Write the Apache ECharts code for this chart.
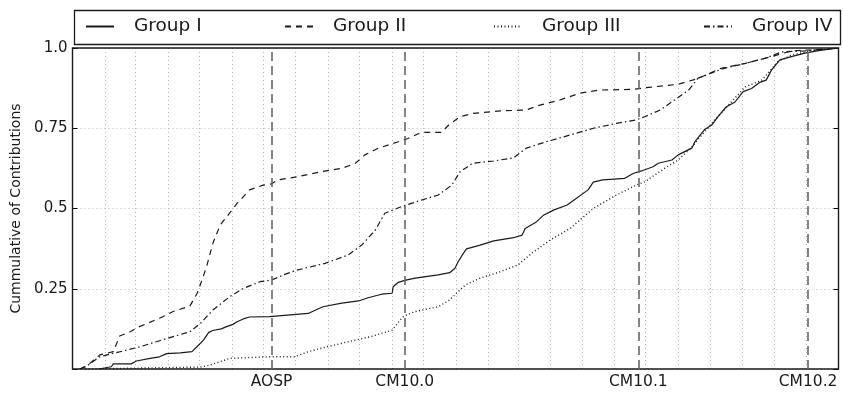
<!DOCTYPE html>
<html>
<head>
<meta charset="utf-8">
<script src="https://cdn.jsdelivr.net/npm/echarts@6/dist/echarts.min.js"></script>
<style>
html,body{margin:0;padding:0;background:#fff;}
#chart{width:843px;height:396px;}
</style>
</head>
<body>
<div id="chart"></div>
<script>
// x values: days since 2012-01-01 ; y values: cumulative share of contributions
var startDate = '2012-01-01';
var endDate = '2014-01-01';

var groupNames = ['Group I', 'Group II', 'Group III', 'Group IV'];

var groupI = [[25,0.0],[37,0.007],[39,0.016],[56,0.016],[61,0.025],[74,0.033],[83,0.038],[90,0.048],[103,0.050],[114,0.054],[119,0.070],[125,0.090],[130,0.114],[134,0.120],[142,0.125],[147,0.132],[153,0.139],[157,0.147],[163,0.156],[169,0.162],[188,0.163],[225,0.173],[231,0.182],[239,0.194],[257,0.205],[273,0.212],[282,0.222],[295,0.233],[305,0.236],[306,0.256],[311,0.270],[317,0.276],[327,0.283],[349,0.293],[360,0.300],[365,0.314],[368,0.334],[373,0.360],[376,0.374],[389,0.386],[402,0.399],[421,0.409],[429,0.417],[432,0.438],[443,0.459],[449,0.478],[459,0.495],[472,0.511],[481,0.532],[492,0.558],[497,0.582],[506,0.589],[527,0.594],[535,0.609],[543,0.617],[554,0.630],[559,0.641],[572,0.651],[578,0.667],[591,0.688],[594,0.708],[603,0.745],[610,0.760],[616,0.786],[624,0.817],[632,0.831],[640,0.864],[648,0.874],[656,0.893],[662,0.900],[667,0.931],[675,0.963],[686,0.973],[699,0.984],[712,0.992],[731,1.0]];

var groupII = [[7,0.0],[14,0.010],[26,0.044],[39,0.054],[45,0.103],[55,0.116],[64,0.132],[83,0.158],[96,0.179],[112,0.196],[119,0.236],[123,0.272],[128,0.319],[134,0.392],[141,0.449],[150,0.486],[157,0.516],[160,0.526],[169,0.558],[182,0.573],[190,0.577],[196,0.589],[215,0.599],[238,0.615],[257,0.625],[270,0.641],[279,0.667],[292,0.688],[311,0.708],[320,0.718],[333,0.737],[352,0.737],[359,0.760],[370,0.786],[382,0.796],[408,0.804],[433,0.807],[446,0.822],[465,0.838],[484,0.859],[503,0.869],[535,0.871],[546,0.876],[578,0.887],[597,0.905],[619,0.937],[642,0.952],[667,0.973],[686,0.991],[705,0.994],[731,1.0]];

var groupIII = [[12,0.0],[122,0.006],[131,0.012],[141,0.023],[150,0.033],[163,0.035],[188,0.038],[212,0.038],[225,0.054],[244,0.070],[263,0.085],[285,0.101],[305,0.121],[314,0.158],[317,0.166],[327,0.179],[349,0.194],[360,0.215],[368,0.241],[375,0.262],[389,0.283],[408,0.303],[425,0.324],[440,0.365],[456,0.402],[475,0.438],[497,0.500],[519,0.542],[538,0.573],[546,0.583],[565,0.625],[578,0.651],[591,0.692],[610,0.765],[626,0.822],[642,0.879],[658,0.900],[673,0.957],[686,0.978],[705,0.991],[731,1.0]];

var groupIV = [[7,0.0],[14,0.010],[26,0.038],[39,0.049],[52,0.059],[64,0.069],[80,0.085],[96,0.101],[112,0.116],[122,0.142],[134,0.184],[150,0.225],[163,0.251],[179,0.272],[190,0.277],[201,0.293],[214,0.308],[241,0.329],[263,0.355],[276,0.386],[289,0.433],[298,0.485],[314,0.506],[333,0.526],[349,0.542],[362,0.573],[370,0.615],[382,0.641],[402,0.648],[421,0.658],[433,0.688],[452,0.708],[475,0.729],[497,0.750],[519,0.765],[538,0.776],[546,0.786],[561,0.807],[588,0.869],[597,0.906],[620,0.935],[642,0.952],[661,0.968],[677,0.988],[699,0.991],[731,1.0]];

var releaseNames = ['AOSP', 'CM10.0', 'CM10.1', 'CM10.2'];
var releaseDates = ['2012-07-09', '2012-11-13', '2013-06-24', '2013-12-03'];

var yTicks = [0.25, 0.5, 0.75, 1.0];
var yTickLabels = ['0.25', '0.5', '0.75', '1.0'];

var DAY = 86400000;
var T0 = Date.parse(startDate);
var T1 = Date.parse(endDate);
function toSeries(arr){ return arr.map(function(p){ return [T0 + p[0]*DAY, p[1]]; }); }

var groupData = [groupI, groupII, groupIII, groupIV];
var dashTypes = ['solid', [6,5], [1,2.5], [6,3,1.5,3]];
var widths = [1.2, 1.2, 1.4, 1.2];
var FONT = 'DejaVu Sans';

var series = groupData.map(function(d, i){
  return {
    name: groupNames[i],
    type: 'line',
    data: toSeries(d),
    symbol: 'none',
    showSymbol: false,
    silent: true,
    animation: false,
    z: 3,
    lineStyle: {color: '#1a1a1a', width: widths[i], type: dashTypes[i]},
    itemStyle: {color: '#1a1a1a'}
  };
});

series.push({
  name: 'releases',
  type: 'line',
  data: [],
  silent: true,
  animation: false,
  markLine: {
    silent: true,
    symbol: ['none','none'],
    animation: false,
    lineStyle: {color: '#666', width: 1.6, type: [9,5]},
    label: {show: true, position: 'start', formatter: '{b}', color: '#1a1a1a', fontFamily: FONT, fontSize: 15.5, distance: 5},
    data: releaseDates.map(function(dt, i){ return {name: releaseNames[i], xAxis: Date.parse(dt)}; })
  }
});

var legendLefts = [85, 284, 493, 703];
var legends = groupNames.map(function(n, i){
  return {
    data: [n],
    left: legendLefts[i],
    top: 17,
    padding: 0,
    itemWidth: 28,
    itemHeight: 14,
    selectedMode: false,
    itemStyle: {opacity: 0},
    lineStyle: {opacity: 1},
    textStyle: {fontFamily: FONT, fontSize: 18.5, color: '#1a1a1a', padding: [0,0,0,15]}
  };
});

var yAxisCommon = {
  type: 'value', min: 0, max: 1, interval: 0.25,
  axisLine: {show: false},
  axisTick: {show: true, inside: true, length: 5, lineStyle: {color: '#000', width: 1}},
  splitLine: {show: false}
};

var chart = echarts.init(document.getElementById('chart'), null, {renderer: 'canvas'});
chart.setOption({
  useUTC: true,
  animation: false,
  backgroundColor: '#fff',
  textStyle: {fontFamily: FONT},
  legend: legends,
  graphic: [{
    type: 'rect', left: 72, top: 8, z: 0,
    shape: {width: 766, height: 34},
    style: {fill: 'none', stroke: '#1a1a1a', lineWidth: 1.3}
  }],
  grid: {left: 72.5, right: 4.5, top: 48, bottom: 27, show: true, borderColor: '#1a1a1a', borderWidth: 1.4, backgroundColor: 'transparent', z: 5},
  xAxis: {
    type: 'time', min: T0, max: T1, splitNumber: 24,
    minInterval: 28*DAY, maxInterval: 31*DAY,
    axisLine: {show: false}, axisTick: {show: false}, axisLabel: {show: false},
    splitLine: {show: true, lineStyle: {color: '#b5b5b5', width: 1, type: [1,3]}}
  },
  yAxis: [
    Object.assign({}, yAxisCommon, {
      position: 'left',
      name: 'Cummulative of Contributions',
      nameLocation: 'middle', nameGap: 48,
      nameTextStyle: {fontFamily: FONT, fontSize: 14, color: '#1a1a1a'},
      axisLabel: {show: true, margin: 5, fontFamily: FONT, fontSize: 15, color: '#1a1a1a',
        formatter: function(v){ var k = yTicks.indexOf(v); return k >= 0 ? yTickLabels[k] : ''; }},
      splitLine: {show: true, lineStyle: {color: '#b5b5b5', width: 1, type: [1,3]}}
    }),
    Object.assign({}, yAxisCommon, {position: 'right', axisLabel: {show: false}})
  ],
  series: series
});
</script>
</body>
</html>
